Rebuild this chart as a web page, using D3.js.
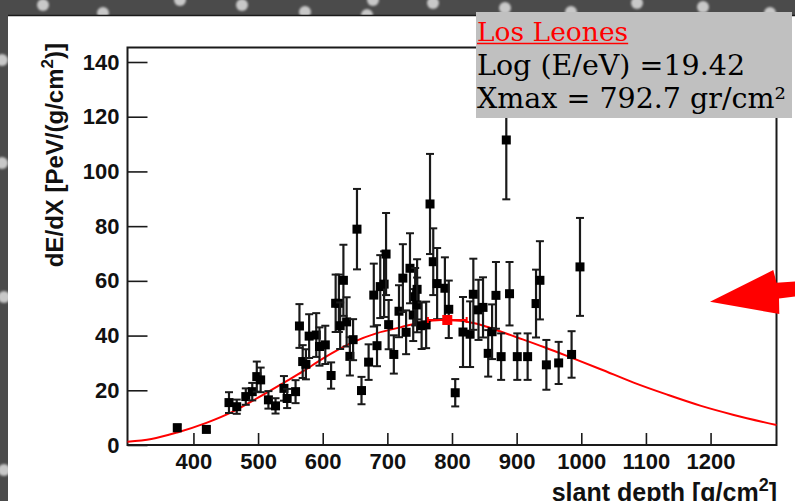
<!DOCTYPE html>
<html>
<head>
<meta charset="utf-8">
<script src="https://cdn.jsdelivr.net/npm/d3@7"></script>
<style>
  html, body { margin: 0; padding: 0; background: #4b4b4b; }
  svg { display: block; }
</style>
</head>
<body>
<svg id="chart" width="795" height="501"></svg>
<script>
// Longitudinal profile: energy deposit vs slant depth, with error bars
const depth = [375, 420, 455, 467, 481, 491, 498, 504, 516, 527, 540, 545, 558, 564, 569, 574, 579, 590, 595, 604,
  613, 620, 625, 627, 632, 637, 642, 647, 653, 660, 671, 679, 684, 689, 695, 698, 702, 710, 718, 724,
  729, 735, 740, 743, 746, 746, 753, 760, 766, 771, 777, 789, 795, 805, 817, 828, 833, 841, 848, 856,
  862, 868, 876, 884, 889, 901, 917, 930, 936, 946, 965, 985, 998];
const dEdX = [6.3, 5.7, 15.5, 14.0, 17.7, 19.5, 25.0, 23.8, 16.5, 14.3, 20.7, 17.0, 19.5, 43.5, 30.5, 29.5, 39.8, 40.2, 36.0, 36.6,
  25.4, 51.8, 51.8, 43.6, 60.2, 45.0, 32.4, 38.5, 78.9, 19.9, 30.3, 54.8, 36.3, 57.9, 58.8, 69.8, 44.0, 33.1, 48.9, 61.0,
  41.2, 64.6, 47.5, 54.2, 56.9, 51.2, 43.6, 43.9, 88.1, 67.0, 59.0, 57.3, 49.6, 19.1, 41.3, 40.5, 55.1, 49.4, 50.3, 33.5,
  41.4, 54.7, 32.3, 111.5, 55.3, 32.3, 32.3, 51.7, 60.2, 29.3, 30.0, 33.1, 65.1];
const dEdXErr = [1.2, 1.0, 3.8, 2.6, 3.0, 3.2, 5.5, 4.5, 3.2, 2.8, 4.5, 3.5, 4.2, 8.0, 6.0, 5.5, 8.0, 8.0, 7.0, 7.0,
  4.8, 10.5, 10.5, 8.5, 13.0, 9.0, 7.0, 7.5, 14.7, 5.0, 6.5, 11.5, 7.5, 11.5, 12.0, 15.0, 9.0, 7.0, 9.5, 12.4,
  8.0, 12.8, 9.5, 10.5, 11.0, 10.0, 8.5, 8.5, 18.3, 12.2, 13.0, 11.3, 10.5, 5.0, 12.8, 12.0, 13.0, 11.0, 11.0, 8.5,
  10.0, 12.2, 8.5, 21.7, 11.6, 8.5, 8.5, 12.4, 14.3, 9.1, 7.7, 8.5, 17.9];

// Fitted profile (sampled)
const fitDepth = [298, 335, 375, 420, 461, 500, 540, 570, 600, 622, 647, 684, 720, 753, 783, 812, 849, 874, 900, 942,
  988, 1029, 1081, 1133, 1184, 1236, 1302];
const fitValue = [1.2, 2.2, 4.6, 8.1, 12.2, 17.3, 22.8, 27.0, 31.6, 34.6, 37.6, 40.9, 43.0, 44.9, 45.7, 45.4, 43.6, 41.6, 39.4, 35.8,
  31.6, 27.8, 22.8, 18.4, 14.4, 11.0, 7.3];

// Shower maximum
const xmaxValue = 792.7;
const xmaxErr = 30;
const xmaxPeak = 45.7;
const logEnergy = 19.42;
const siteName = "Los Leones";

// Axis ticks
const xMajorTicks = [400, 500, 600, 700, 800, 900, 1000, 1100, 1200];
const yMajorTicks = [0, 20, 40, 60, 80, 100, 120, 140];

// Decorative background dots
const bgDots = [[43,5],[103,13],[180,0],[242,5],[305,12],[373,0],[367,15],[433,3],[505,8],[571,12],[637,3],[703,7],[770,13],
  [2,60],[2,163],[4,297],[4,470]];

const svg = d3.select("#chart");

// Background
const defs = svg.append("defs");
defs.append("filter").attr("id", "soft").append("feGaussianBlur").attr("stdDeviation", 0.9);
svg.append("rect").attr("width", 795).attr("height", 501).attr("fill", "#4b4b4b");
svg.append("g").attr("filter", "url(#soft)")
  .selectAll("circle").data(bgDots).join("circle")
  .attr("cx", d => d[0]).attr("cy", d => d[1]).attr("r", 6).attr("fill", "#c8c8c8");

// White slide panel
svg.append("rect").attr("x", 8).attr("y", 16).attr("width", 787).attr("height", 490).attr("fill", "#fff");
svg.append("line").attr("x1", 8).attr("x2", 795).attr("y1", 15.5).attr("y2", 15.5)
  .attr("stroke", "#1a1a1a").attr("stroke-width", 1.6);

const L = 127.5, R = 776.5, T = 47.5, B = 445;
const x = d3.scaleLinear().domain([298, 1302]).range([L, R]);
const y = d3.scaleLinear().domain([0, 145.3]).range([B, T]);

const axisColor = "#1a1a1a";
const fontSans = "'Liberation Sans', Arial, Helvetica, sans-serif";

// Minor ticks
const xMinor = d3.range(300, 1301, 20);
const yMinor = d3.range(0, 146, 5);

const gx = svg.append("g").attr("transform", `translate(0,${B})`);
gx.call(d3.axisBottom(x).tickValues(xMinor).tickSize(-6).tickFormat(""));
gx.call(d3.axisBottom(x).tickValues(xMajorTicks).tickSize(-12).tickPadding(8).tickFormat(d3.format("d")));

const gy = svg.append("g").attr("transform", `translate(${L},0)`);
gy.call(d3.axisLeft(y).tickValues(yMinor).tickSize(-10).tickFormat(""));
gy.call(d3.axisLeft(y).tickValues(yMajorTicks).tickSize(-20).tickPadding(8).tickFormat(d3.format("d")));

[gx, gy].forEach(g => {
  g.selectAll(".domain").remove();
  g.selectAll("line").attr("stroke", axisColor).attr("stroke-width", 1.6);
  g.selectAll("text").attr("fill", "#111").style("font-family", fontSans)
    .style("font-weight", "bold").style("font-size", "22px");
});

// Frame
svg.append("rect").attr("x", L).attr("y", T).attr("width", R - L).attr("height", B - T)
  .attr("fill", "none").attr("stroke", axisColor).attr("stroke-width", 2);

// Fit curve
const pts = fitDepth.map((d, i) => [d, fitValue[i]]);
svg.append("path").datum(pts)
  .attr("d", d3.line().x(d => x(d[0])).y(d => y(d[1])).curve(d3.curveMonotoneX))
  .attr("fill", "none").attr("stroke", "#ff0000").attr("stroke-width", 2);

// Data points with error bars
const data = depth.map((d, i) => ({ x: d, v: dEdX[i], e: dEdXErr[i] }));
const gp = svg.append("g");
const cap = 4;
const pg = gp.selectAll("g").data(data).join("g");
pg.append("line")
  .attr("x1", d => x(d.x)).attr("x2", d => x(d.x))
  .attr("y1", d => y(d.v - d.e)).attr("y2", d => y(d.v + d.e))
  .attr("stroke", "#1a1a1a").attr("stroke-width", 2.2);
pg.append("line")
  .attr("x1", d => x(d.x) - cap).attr("x2", d => x(d.x) + cap)
  .attr("y1", d => y(d.v + d.e)).attr("y2", d => y(d.v + d.e))
  .attr("stroke", "#1a1a1a").attr("stroke-width", 2);
pg.append("line")
  .attr("x1", d => x(d.x) - cap).attr("x2", d => x(d.x) + cap)
  .attr("y1", d => y(d.v - d.e)).attr("y2", d => y(d.v - d.e))
  .attr("stroke", "#1a1a1a").attr("stroke-width", 2);
pg.append("rect")
  .attr("x", d => x(d.x) - 4.5).attr("y", d => y(d.v) - 4.5)
  .attr("width", 9).attr("height", 9).attr("fill", "#000");

// Xmax marker
const gm = svg.append("g").attr("stroke", "#ff0000").attr("stroke-width", 2);
gm.append("line").attr("x1", x(xmaxValue - xmaxErr)).attr("x2", x(xmaxValue + xmaxErr))
  .attr("y1", y(xmaxPeak)).attr("y2", y(xmaxPeak));
[xmaxValue - xmaxErr, xmaxValue + xmaxErr].forEach(v => {
  gm.append("line").attr("x1", x(v)).attr("x2", x(v)).attr("y1", y(xmaxPeak) - 3).attr("y2", y(xmaxPeak) + 3);
});
svg.append("rect").attr("x", x(xmaxValue) - 5).attr("y", y(xmaxPeak) - 5)
  .attr("width", 10).attr("height", 10).attr("fill", "#ff0000");

// Axis titles
svg.append("text")
  .attr("transform", `translate(63,43) rotate(-90)`)
  .attr("text-anchor", "end")
  .style("font-family", fontSans).style("font-weight", "bold").style("font-size", "24px").attr("fill", "#111")
  .call(t => {
    t.append("tspan").text("dE/dX [PeV/(g/cm");
    t.append("tspan").attr("dy", -10).style("font-size", "17px").text("2");
    t.append("tspan").attr("dy", 10).text(")]");
  });

svg.append("text")
  .attr("x", 777).attr("y", 501)
  .attr("text-anchor", "end")
  .style("font-family", fontSans).style("font-weight", "bold").style("font-size", "25px").attr("fill", "#111")
  .call(t => {
    t.append("tspan").text("slant depth [g/cm");
    t.append("tspan").attr("dy", -10).style("font-size", "18px").text("2");
    t.append("tspan").attr("dy", 10).text("]");
  });

// Pointer arrow
svg.append("path")
  .attr("d", "M710,301.7 L773.3,270 L776.5,282.7 L795,281.5 L795,296.5 L779,298.5 L779.3,314 Z")
  .attr("fill", "#ff0000");

// Event info box
svg.append("rect").attr("x", 476).attr("y", 12).attr("width", 316).attr("height", 106).attr("fill", "#c0c0c0");
const fontSerif = "'DejaVu Serif', 'Liberation Serif', serif";
const info = svg.append("g").style("font-family", fontSerif);
const t1 = info.append("text").attr("x", 477).attr("y", 41).attr("fill", "#ff0000")
  .style("font-size", "26.5px").text(siteName);
info.append("text").attr("x", 477).attr("y", 74.5).attr("fill", "#000")
  .style("font-size", "28.5px").text(`Log (E/eV) =${logEnergy.toFixed(2)}`);
info.append("text").attr("x", 477).attr("y", 108).attr("fill", "#000")
  .style("font-size", "28.5px").text(`Xmax = ${xmaxValue.toFixed(1)} gr/cm\u00B2`);
const w1 = t1.node().getComputedTextLength();
info.append("line").attr("x1", 477).attr("x2", 477 + w1).attr("y1", 43.5).attr("y2", 43.5)
  .attr("stroke", "#ff0000").attr("stroke-width", 1.5);
</script>
</body>
</html>
